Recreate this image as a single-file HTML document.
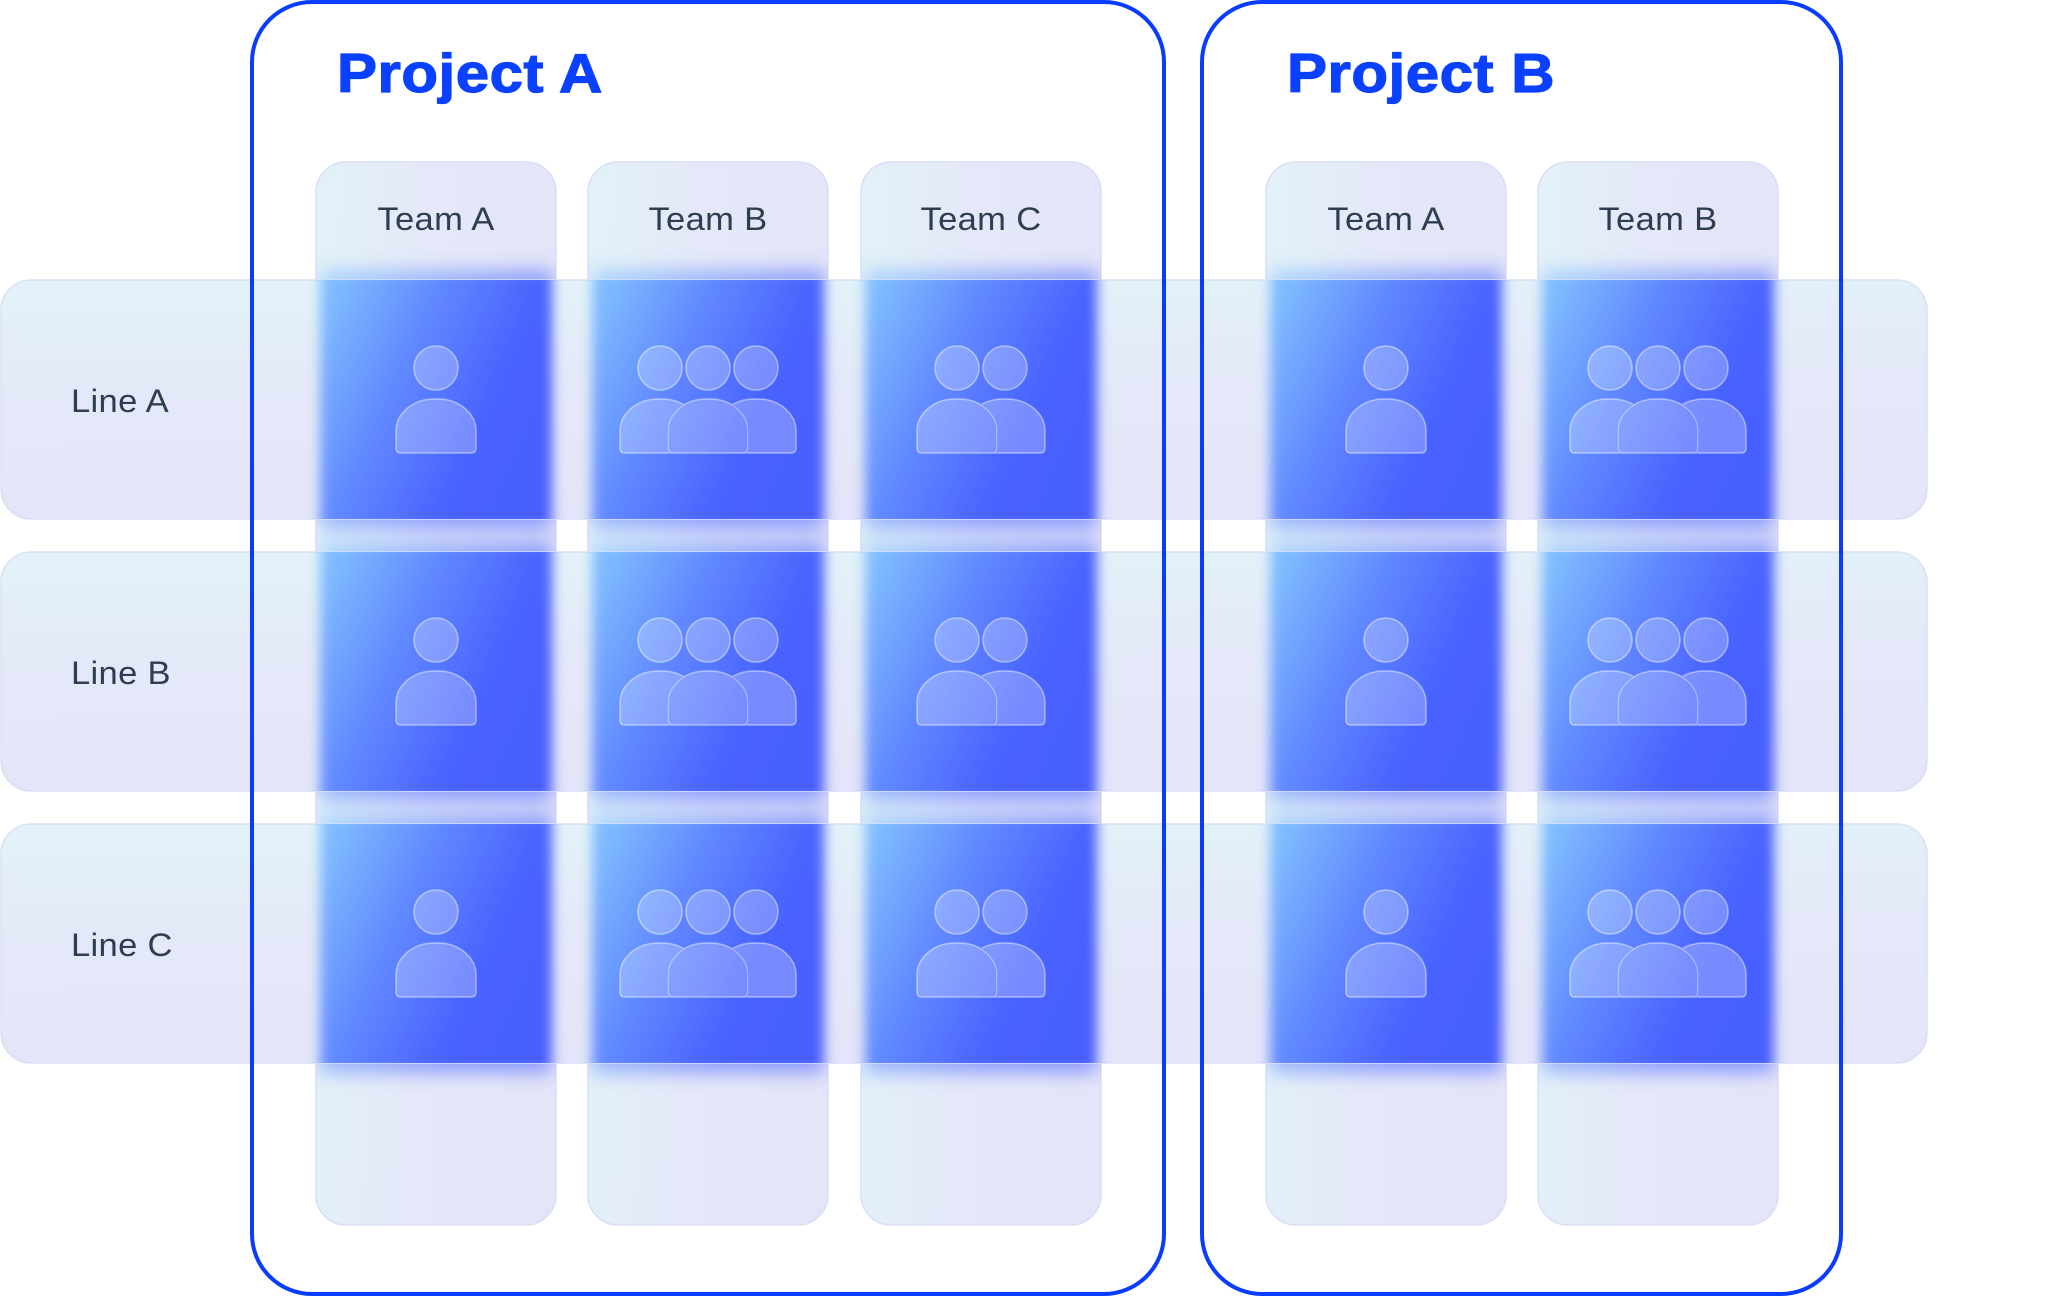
<!DOCTYPE html>
<html>
<head>
<meta charset="utf-8">
<style>
  html, body { margin: 0; padding: 0; background: #ffffff; }
  body { width: 2050px; height: 1296px; overflow: hidden; }
  svg { display: block; }
</style>
</head>
<body>
<svg width="2050" height="1296" viewBox="0 0 2050 1296" xmlns="http://www.w3.org/2000/svg" xmlns:xlink="http://www.w3.org/1999/xlink">
  <defs>
    <linearGradient id="rowg" x1="0" y1="0" x2="0.15" y2="1">
      <stop offset="0" stop-color="#e2f3f8"/>
      <stop offset="0.45" stop-color="#e4e9f8"/>
      <stop offset="1" stop-color="#e4e5f8"/>
    </linearGradient>
    <linearGradient id="colg" x1="0" y1="0" x2="1" y2="0.1">
      <stop offset="0" stop-color="#e2f2f8"/>
      <stop offset="0.45" stop-color="#e4e8f8"/>
      <stop offset="1" stop-color="#e4e5f8"/>
    </linearGradient>
    <linearGradient id="blue" x1="0" y1="0.1" x2="1" y2="0.6">
      <stop offset="0" stop-color="#82c0ff"/>
      <stop offset="0.4" stop-color="#6088ff"/>
      <stop offset="0.75" stop-color="#4963ff"/>
      <stop offset="1" stop-color="#465eff"/>
    </linearGradient>
    <filter id="bl" filterUnits="userSpaceOnUse" x="0" y="0" width="2050" height="1296">
      <feGaussianBlur stdDeviation="6"/>
    </filter>
    <filter id="bl2" filterUnits="userSpaceOnUse" x="0" y="0" width="2050" height="1296">
      <feGaussianBlur stdDeviation="9"/>
    </filter>

    <clipPath id="rowsClip">
      <rect x="1" y="280" width="1926" height="239" rx="30"/>
      <rect x="1" y="552" width="1926" height="239" rx="30"/>
      <rect x="1" y="824" width="1926" height="239" rx="30"/>
    </clipPath>
    <clipPath id="colsClip">
      <rect x="316" y="162" width="240" height="1063" rx="30"/>
      <rect x="588" y="162" width="240" height="1063" rx="30"/>
      <rect x="861" y="162" width="240" height="1063" rx="30"/>
      <rect x="1266" y="162" width="240" height="1063" rx="30"/>
      <rect x="1538" y="162" width="240" height="1063" rx="30"/>
    </clipPath>

    <g id="sq">
      <rect x="320" y="270" width="232" height="259" fill="url(#blue)"/>
      <rect x="592" y="270" width="232" height="259" fill="url(#blue)"/>
      <rect x="865" y="270" width="232" height="259" fill="url(#blue)"/>
      <rect x="1270" y="270" width="232" height="259" fill="url(#blue)"/>
      <rect x="1542" y="270" width="232" height="259" fill="url(#blue)"/>

      <rect x="320" y="542" width="232" height="259" fill="url(#blue)"/>
      <rect x="592" y="542" width="232" height="259" fill="url(#blue)"/>
      <rect x="865" y="542" width="232" height="259" fill="url(#blue)"/>
      <rect x="1270" y="542" width="232" height="259" fill="url(#blue)"/>
      <rect x="1542" y="542" width="232" height="259" fill="url(#blue)"/>

      <rect x="320" y="814" width="232" height="259" fill="url(#blue)"/>
      <rect x="592" y="814" width="232" height="259" fill="url(#blue)"/>
      <rect x="865" y="814" width="232" height="259" fill="url(#blue)"/>
      <rect x="1270" y="814" width="232" height="259" fill="url(#blue)"/>
      <rect x="1542" y="814" width="232" height="259" fill="url(#blue)"/>
    </g>

    <path id="body" d="M-40,168 V151 A38 32 0 0 1 -2,119 H2 A38 32 0 0 1 40,151 V168 Q40,173 35,173 H-35 Q-40,173 -40,168 Z"
          fill="#ffffff" fill-opacity="0.26" stroke="#ffffff" stroke-opacity="0.45" stroke-width="1.5"/>
    <circle id="head" cx="0" cy="88" r="22" fill="#ffffff" fill-opacity="0.26" stroke="#ffffff" stroke-opacity="0.45" stroke-width="1.5"/>

    <mask id="m3" maskUnits="userSpaceOnUse" x="-150" y="0" width="300" height="260">
      <rect x="-150" y="0" width="300" height="260" fill="#ffffff"/>
      <path d="M-40,168 V151 A38 32 0 0 1 -2,119 H2 A38 32 0 0 1 40,151 V168 Q40,173 35,173 H-35 Q-40,173 -40,168 Z" fill="#000000" stroke="#000000" stroke-width="2"/>
    </mask>
    <mask id="m2" maskUnits="userSpaceOnUse" x="-150" y="0" width="300" height="260">
      <rect x="-150" y="0" width="300" height="260" fill="#ffffff"/>
      <path transform="translate(-24,0)" d="M-40,168 V151 A38 32 0 0 1 -2,119 H2 A38 32 0 0 1 40,151 V168 Q40,173 35,173 H-35 Q-40,173 -40,168 Z" fill="#000000" stroke="#000000" stroke-width="2"/>
    </mask>

    <g id="i1">
      <use xlink:href="#head" href="#head"/>
      <use xlink:href="#body" href="#body"/>
    </g>
    <g id="i3">
      <g mask="url(#m3)">
        <use xlink:href="#body" href="#body" x="-48"/>
        <use xlink:href="#body" href="#body" x="48"/>
      </g>
      <use xlink:href="#body" href="#body"/>
      <use xlink:href="#head" href="#head" x="-48"/>
      <use xlink:href="#head" href="#head"/>
      <use xlink:href="#head" href="#head" x="48"/>
    </g>
    <g id="i2">
      <g mask="url(#m2)">
        <use xlink:href="#body" href="#body" x="24"/>
      </g>
      <use xlink:href="#body" href="#body" x="-24"/>
      <use xlink:href="#head" href="#head" x="-24"/>
      <use xlink:href="#head" href="#head" x="24"/>
    </g>
  </defs>

  <rect x="0" y="0" width="2050" height="1296" fill="#ffffff"/>

  <!-- Columns -->
  <g fill="url(#colg)" stroke="#d8def6" stroke-width="1.5">
    <rect x="316" y="162" width="240" height="1063" rx="30"/>
    <rect x="588" y="162" width="240" height="1063" rx="30"/>
    <rect x="861" y="162" width="240" height="1063" rx="30"/>
    <rect x="1266" y="162" width="240" height="1063" rx="30"/>
    <rect x="1538" y="162" width="240" height="1063" rx="30"/>
  </g>

  <!-- Spill of blue into columns -->
  <g clip-path="url(#colsClip)" opacity="0.55">
    <g filter="url(#bl2)">
      <use xlink:href="#sq" href="#sq"/>
    </g>
  </g>

  <!-- Rows -->
  <g fill="url(#rowg)" stroke="#d8e0f6" stroke-width="1.5">
    <rect x="1" y="280" width="1926" height="239" rx="30"/>
    <rect x="1" y="552" width="1926" height="239" rx="30"/>
    <rect x="1" y="824" width="1926" height="239" rx="30"/>
  </g>

  <!-- Blue intersections -->
  <g clip-path="url(#rowsClip)">
    <g filter="url(#bl)">
      <use xlink:href="#sq" href="#sq"/>
    </g>
  </g>

  <!-- Icons -->
  <use xlink:href="#i1" href="#i1" x="436" y="280"/>
  <use xlink:href="#i3" href="#i3" x="708" y="280"/>
  <use xlink:href="#i2" href="#i2" x="981" y="280"/>
  <use xlink:href="#i1" href="#i1" x="1386" y="280"/>
  <use xlink:href="#i3" href="#i3" x="1658" y="280"/>

  <use xlink:href="#i1" href="#i1" x="436" y="552"/>
  <use xlink:href="#i3" href="#i3" x="708" y="552"/>
  <use xlink:href="#i2" href="#i2" x="981" y="552"/>
  <use xlink:href="#i1" href="#i1" x="1386" y="552"/>
  <use xlink:href="#i3" href="#i3" x="1658" y="552"/>

  <use xlink:href="#i1" href="#i1" x="436" y="824"/>
  <use xlink:href="#i3" href="#i3" x="708" y="824"/>
  <use xlink:href="#i2" href="#i2" x="981" y="824"/>
  <use xlink:href="#i1" href="#i1" x="1386" y="824"/>
  <use xlink:href="#i3" href="#i3" x="1658" y="824"/>

  <!-- Labels -->
  <g font-family="'Liberation Sans', Arial, sans-serif" font-size="32" fill="#2f3d52">
    <text transform="translate(436,230) scale(1.08,1)" text-anchor="middle" letter-spacing="0.3">Team A</text>
    <text transform="translate(708,230) scale(1.08,1)" text-anchor="middle" letter-spacing="0.3">Team B</text>
    <text transform="translate(981,230) scale(1.08,1)" text-anchor="middle" letter-spacing="0.3">Team C</text>
    <text transform="translate(1386,230) scale(1.08,1)" text-anchor="middle" letter-spacing="0.3">Team A</text>
    <text transform="translate(1658,230) scale(1.08,1)" text-anchor="middle" letter-spacing="0.3">Team B</text>

    <text transform="translate(71,412) scale(1.08,1)" letter-spacing="0.3">Line A</text>
    <text transform="translate(71,684) scale(1.08,1)" letter-spacing="0.3">Line B</text>
    <text transform="translate(71,956) scale(1.08,1)" letter-spacing="0.3">Line C</text>
  </g>

  <g font-family="'Liberation Sans', Arial, sans-serif" font-size="55" font-weight="bold" fill="#0a40ff" stroke="#0a40ff" stroke-width="1.2">
    <text transform="translate(337,92) scale(1.09,1)" letter-spacing="0.5">Project A</text>
    <text transform="translate(1287,92) scale(1.09,1)" letter-spacing="0.5">Project B</text>
  </g>

  <!-- Project boxes -->
  <g fill="none" stroke="#0a3cff" stroke-width="4">
    <rect x="252" y="2" width="912" height="1292" rx="60"/>
    <rect x="1202" y="2" width="639" height="1292" rx="60"/>
  </g>
</svg>
</body>
</html>
